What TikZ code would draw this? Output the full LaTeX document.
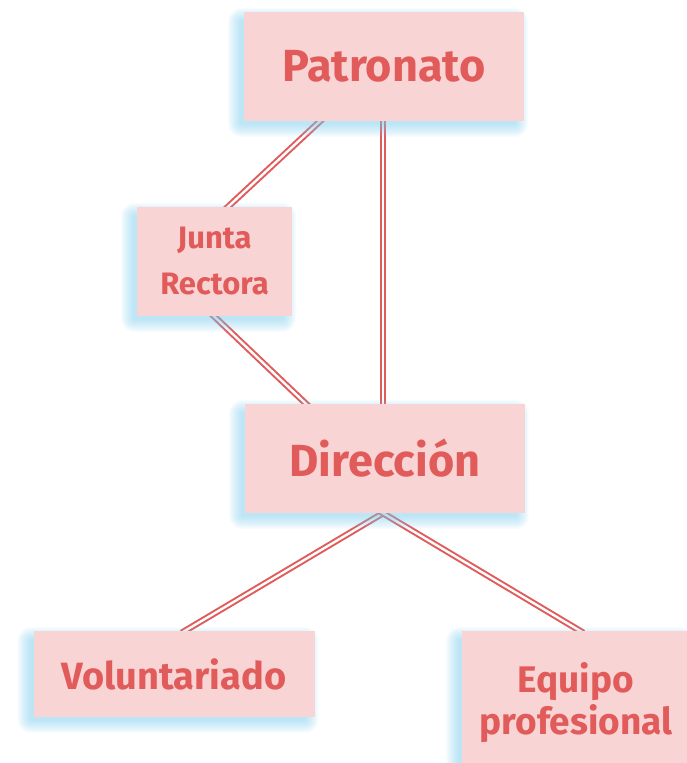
\documentclass[tikz,border=0pt]{standalone}
\usepackage{fontspec}
\setmainfont{Fira Sans}
\usetikzlibrary{calc}
\definecolor{boxfill}{HTML}{F9D4D5}
\definecolor{txt}{HTML}{E15B5B}
\definecolor{glowc}{HTML}{7FCDEE}
\pgfdeclarelayer{lines}
\pgfdeclarelayer{glow}
\pgfsetlayers{lines,glow,main}
\tikzset{
  box/.style={fill=boxfill, inner sep=0pt, align=center, text=txt, font=\bfseries},
  link/.style={draw=txt, line width=2pt, double=white, double distance=2.4pt, shorten <=-4pt, shorten >=-4pt},
}
\newcommand\glowof[1]{%
  \foreach \k in {-3,...,10}{%
    \fill[glowc, opacity=0.05, rounded corners=\k pt+4pt] ([shift={(-6-\k,6+\k)}]#1.south west) rectangle ([shift={(-6+\k,6-\k)}]#1.north east);
  }}
\begin{document}
\begin{tikzpicture}[x=1pt,y=-1pt]
\useasboundingbox (0,0) rectangle (687,763);
\node[box, minimum width=280pt, minimum height=109pt, font=\bfseries\fontsize{45}{50}\selectfont] (pat) at (384,66.5) {Patronato};
\node[box, minimum width=155pt, minimum height=109pt, font=\bfseries\fontsize{31}{46}\selectfont] (jun) at (214.5,261.5) {Junta\\Rectora};
\node[box, minimum width=280pt, minimum height=109pt, font=\bfseries\fontsize{45}{50}\selectfont] (dir) at (385,458.5) {Dirección};
\node[box, minimum width=281pt, minimum height=86pt, font=\bfseries\fontsize{38}{44}\selectfont] (vol) at (174,674) {Voluntariado};
\node[box, minimum width=228pt, minimum height=144pt, font=\bfseries\fontsize{37}{42}\selectfont] (equ) at (576,703) {Equipo\\profesional};
\begin{pgfonlayer}{glow}
  \glowof{pat}\glowof{jun}\glowof{dir}\glowof{vol}\glowof{equ}
\end{pgfonlayer}
\begin{pgfonlayer}{lines}
  \draw[link] ([xshift=-64pt]pat.south) -- ([xshift=13.5pt]jun.north);
  \draw[link] ([xshift=-1pt]pat.south) -- ([xshift=-2pt]dir.north);
  \draw[link] ([xshift=-0.5pt]jun.south) -- ([xshift=-79pt]dir.north);
  \draw[link] ([xshift=-2pt]dir.south) -- ([xshift=11pt]vol.north);
  \draw[link] ([xshift=-2pt]dir.south) -- ([xshift=4pt]equ.north);
\end{pgfonlayer}
\end{tikzpicture}
\end{document}
